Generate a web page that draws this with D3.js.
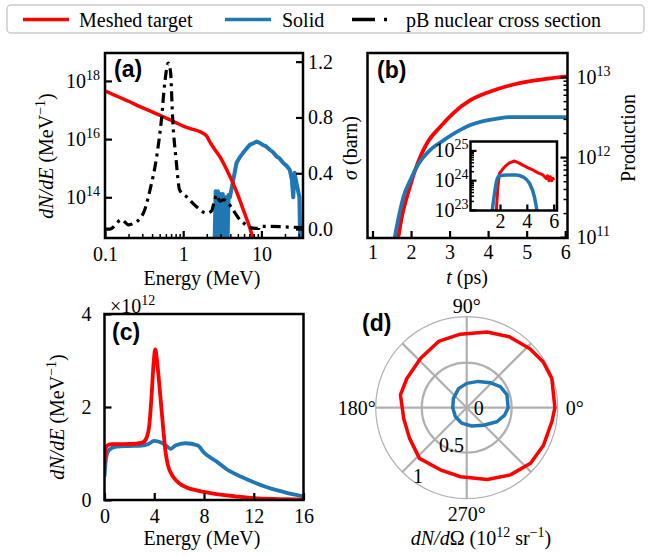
<!DOCTYPE html>
<html>
<head>
<meta charset="utf-8">
<script src="https://cdn.jsdelivr.net/npm/d3@7"></script>
<style>
  body { margin: 0; background: #fff; }
</style>
</head>
<body>
<svg id="fig" width="650" height="556"></svg>
<script>
// ---------- data ----------
// (a) spectra, energy in MeV, dN/dE in MeV^-1
var aRedE   = [0.1, 0.15, 0.2, 0.28, 0.4, 0.68, 1.0, 1.3, 1.63, 2.0, 2.2, 2.6, 2.94, 3.6, 4.3, 4.8, 5.3, 5.8, 6.3, 6.8, 7.2, 7.5, 7.8, 8.1];
var aRedN   = [4.6e17, 2.8e17, 2e17, 1.3e17, 8.7e16, 4.6e16, 2.8e16, 2.2e16, 1.8e16, 1.26e16, 7.9e15, 4e15, 2.5e15, 8.9e14, 3.2e14, 1.58e14, 7.9e13, 4e13, 2.2e13, 1.26e13, 7.9e12, 5.6e12, 4e12, 2e12];
var aBlueE  = [2.5, 2.6, 2.68, 2.78, 2.88, 2.98, 3.1, 3.2, 3.35, 3.5, 3.65, 3.8, 3.95, 4.3, 4.8, 5.3, 5.8, 6.4, 7.1, 7.9, 8.7, 9.5, 10.5, 11.5, 12.8, 14, 15.6, 17, 19, 21, 23, 24.5, 25.5, 26.5, 27.5, 29, 30.6, 31.5];
var aBlueN  = [1e12, 1.6e14, 1e12, 1.6e14, 1e12, 1.3e14, 1e12, 1.3e14, 1e12, 1e14, 1e12, 1.2e14, 1e14, 3.2e14, 1.5e15, 2.4e15, 3.3e15, 4.6e15, 6.3e15, 7.2e15, 8.3e15, 7.4e15, 6.3e15, 5.6e15, 4.3e15, 3.6e15, 2.5e15, 2.2e15, 1.5e15, 1.2e15, 8.9e14, 4e14, 1e14, 7e14, 4e14, 2e14, 1e14, 1e12];
var xsE     = [0.1, 0.116, 0.163, 0.2, 0.23, 0.31, 0.376, 0.458, 0.53, 0.58, 0.645, 0.69, 0.73, 0.81, 0.9, 1.11, 1.48, 1.98, 2.3, 2.5, 2.67, 2.95, 3.3, 3.6, 4.3, 5.3, 6.4, 7.8, 9.3, 9.4, 33];
var xsSigma = [0.0, 0.0, 0.067, 0.03, 0.04, 0.115, 0.28, 0.52, 0.8, 1.045, 1.19, 1.12, 0.81, 0.5, 0.28, 0.23, 0.16, 0.115, 0.13, 0.2, 0.245, 0.2, 0.21, 0.2, 0.14, 0.067, 0.03, 0.007, 0.005, 0.02, 0.01];

// (b) production vs time (ps)
var bRedT  = [1.65, 1.68, 1.76, 1.89, 2.02, 2.2, 2.41, 2.76, 3.1, 3.54, 4.06, 4.58, 5.1, 5.5, 6.06];
var bRedP  = [8.9e10, 1.07e11, 1.78e11, 3.16e11, 5.13e11, 9.1e11, 1.48e12, 2.4e12, 3.55e12, 5.13e12, 6.6e12, 7.9e12, 8.9e12, 9.5e12, 1.02e13];
var bBlueT = [1.55, 1.59, 1.68, 1.8, 1.98, 2.2, 2.5, 2.84, 3.28, 3.54, 3.8, 4.2, 4.58, 5.1, 5.5, 6.06];
var bBlueP = [8e10, 1.07e11, 1.78e11, 3.16e11, 5.13e11, 8.3e11, 1.23e12, 1.62e12, 2.19e12, 2.51e12, 2.75e12, 3.0e12, 3.16e12, 3.16e12, 3.16e12, 3.16e12];
// (b) inset: cross section
var iRedT  = [1.7, 1.84, 1.96, 2.34, 2.7, 3.08, 3.4, 3.7, 4.1, 4.45, 4.8, 5.2, 5.45, 5.55, 5.65, 5.75, 5.85, 5.95, 6.02];
var iRedS  = [6e22, 5.9e23, 1.7e24, 2.8e24, 3.8e24, 4.4e24, 3.8e24, 3.2e24, 2.6e24, 2.2e24, 1.8e24, 1.5e24, 1.15e24, 1.4e24, 0.95e24, 1.3e24, 0.95e24, 1.15e24, 1.0e24];
var iBlueT = [1.42, 1.59, 1.76, 1.96, 2.5, 3.2, 3.7, 4.2, 4.57, 4.75, 4.85];
var iBlueS = [9.5e22, 3.5e23, 1e24, 1.4e24, 1.48e24, 1.48e24, 1.29e24, 7.8e23, 2.7e23, 9.5e22, 4e22];

// (c) spectra on linear scale, units of 1e12 MeV^-1
var cRedE  = [0, 0.08, 0.25, 0.6, 1.5, 2.5, 3.1, 3.4, 3.6, 3.8, 3.95, 4.08, 4.2, 4.35, 4.5, 4.7, 4.9, 5.1, 5.3, 5.6, 6.0, 6.6, 7.5, 8.5, 9.5, 10.5, 12, 14, 16];
var cRedN  = [0.75, 1.1, 1.18, 1.2, 1.2, 1.21, 1.24, 1.35, 1.6, 2.3, 2.95, 3.24, 3.05, 2.65, 2.2, 1.6, 1.05, 0.75, 0.6, 0.47, 0.36, 0.27, 0.2, 0.15, 0.11, 0.08, 0.04, 0.02, 0.01];
var cBlueE = [0, 0.1, 0.3, 0.6, 1, 2, 3, 3.5, 4, 4.5, 5.0, 5.3, 5.7, 6.5, 7.5, 8, 9, 10, 11, 12, 13, 14, 15, 16];
var cBlueN = [0.5, 0.85, 1.05, 1.12, 1.15, 1.16, 1.17, 1.2, 1.27, 1.24, 1.16, 1.1, 1.17, 1.22, 1.17, 1.02, 0.83, 0.63, 0.5, 0.38, 0.28, 0.2, 0.13, 0.08];

// (d) angular distribution, angle in degrees, dN/dOmega in 1e12 sr^-1
var dRedAng  = [0, 19, 31, 43, 59, 75, 95, 113, 133, 154, 169, 190, 208, 227, 247, 265, 286, 303, 319, 334, 351];
var dRedR    = [0.98, 1.0, 0.99, 0.96, 0.92, 0.87, 0.82, 0.8, 0.75, 0.74, 0.75, 0.71, 0.72, 0.77, 0.75, 0.77, 0.83, 0.89, 0.94, 0.95, 0.96];
var dBlueAng = [0, 18, 32, 47, 66, 90, 113, 145, 180, 218, 252, 285, 314, 335, 349];
var dBlueR   = [0.46, 0.47, 0.44, 0.38, 0.32, 0.27, 0.23, 0.18, 0.155, 0.16, 0.18, 0.21, 0.27, 0.37, 0.43];

var legendLabels = ["Meshed target", "Solid", "pB nuclear cross section"];

// ---------- drawing ----------
var RED = "#ff0000", BLUE = "#1f77b4";
var SERIF = '"Liberation Serif", "Times New Roman", serif';
var SANS = '"Liberation Sans", Arial, sans-serif';
var FS = 20;

var svg = d3.select("#fig");

var A = {x0: 105, x1: 303, y0: 53, y1: 238};
var B = {x0: 367.5, x1: 567.5, y0: 53, y1: 238};
var I = {x0: 470.5, x1: 557, y0: 141.5, y1: 210.5};
var C = {x0: 104.5, x1: 303.5, y0: 314, y1: 500};
var P = {cx: 466.7, cy: 407.7, R: 90};

var clip = function(id, b){
	svg.append("clipPath").attr("id", id).append("rect")
		.attr("x", b.x0).attr("y", b.y0)
		.attr("width", b.x1 - b.x0).attr("height", b.y1 - b.y0);
};

var frame = function(b){
	svg.append("rect")
		.attr("x", b.x0).attr("y", b.y0)
		.attr("width", b.x1 - b.x0).attr("height", b.y1 - b.y0)
		.attr("fill", "none").attr("stroke", "#000").attr("stroke-width", 2.5);
};

var axis = function(gen, tx, ty, vals, len, pad, fmt){
	var g = svg.append("g").attr("transform", "translate(" + tx + "," + ty + ")")
		.call(gen.tickValues(vals).tickSizeInner(-len).tickSizeOuter(0)
			.tickPadding(pad).tickFormat(fmt || function(){ return ""; }));
	g.select(".domain").remove();
	g.attr("font-family", SERIF).attr("font-size", FS);
	g.selectAll(".tick line").attr("stroke", "#000").attr("stroke-width", len > 5 ? 2.2 : 1.5);
	g.selectAll(".tick text").attr("fill", "#000");
	return g;
};

// turn tick labels into 10^n
var powLabels = function(g){
	g.selectAll(".tick text").each(function(d){
		var t = d3.select(this).text(null);
		t.append("tspan").text("10");
		t.append("tspan").attr("dy", -8).attr("font-size", 14).text(Math.round(Math.log10(d)));
	});
};

var minors = function(lo, hi){
	var out = [];
	for(var k = Math.floor(Math.log10(lo)); k <= Math.ceil(Math.log10(hi)); k++){
		for(var m = 2; m < 10; m++){
			var v = m * Math.pow(10, k);
			if(v > lo && v < hi){ out.push(v); }
		}
	}
	return out;
};

// text with italic / superscript pieces
var rich = function(x, y, parts, anchor, rot){
	var t = svg.append("text").attr("x", x).attr("y", y)
		.attr("font-family", SERIF).attr("font-size", FS)
		.attr("text-anchor", anchor || "middle");
	if(rot){ t.attr("transform", "rotate(" + rot + "," + x + "," + y + ")"); }
	var shift = 0;
	parts.forEach(function(p){
		var ts = t.append("tspan").text(p.t);
		var target = p.sup ? -8 : 0;
		if(target !== shift){ ts.attr("dy", target - shift); shift = target; }
		if(p.sup){ ts.attr("font-size", 14); }
		if(p.it){ ts.attr("font-style", "italic"); }
	});
	return t;
};

var panelTag = function(x, y, s){
	svg.append("text").attr("x", x).attr("y", y)
		.attr("font-family", SANS).attr("font-weight", "bold").attr("font-size", 23)
		.text(s);
};

var drawLine = function(clipId, xs, ys, x, y, color, width, curve, dash){
	var gen = d3.line().x(function(d){ return x(d[0]); }).y(function(d){ return y(d[1]); })
		.curve(curve || d3.curveLinear);
	var p = svg.append("path").attr("clip-path", "url(#" + clipId + ")")
		.attr("d", gen(d3.zip(xs, ys)))
		.attr("fill", "none").attr("stroke", color).attr("stroke-width", width)
		.attr("stroke-linejoin", "round");
	if(dash){ p.attr("stroke-dasharray", dash); }
	return p;
};

// ---------- legend ----------
svg.append("rect").attr("x", 7).attr("y", 5).attr("width", 637).attr("height", 28).attr("rx", 4)
	.attr("fill", "#fff").attr("stroke", "#cccccc").attr("stroke-width", 1.5);
var legItems = [
	{x: 23, tx: 79, color: RED, dash: null},
	{x: 225, tx: 282, color: BLUE, dash: null},
	{x: 352, tx: 406, color: "#000", dash: "23,9,3,11"}
];
legItems.forEach(function(it, i){
	var l = svg.append("line").attr("x1", it.x).attr("x2", it.x + 46).attr("y1", 19.5).attr("y2", 19.5)
		.attr("stroke", it.color).attr("stroke-width", 3.5);
	if(it.dash){ l.attr("stroke-dasharray", it.dash); }
	svg.append("text").attr("x", it.tx).attr("y", 26.5)
		.attr("font-family", SERIF).attr("font-size", FS).text(legendLabels[i]);
});

// ---------- (a) ----------
var xA = d3.scaleLog().domain([0.1, 34]).range([A.x0, A.x1]);
var yA = d3.scaleLog().domain([Math.pow(10, 12.6), Math.pow(10, 18.96)]).range([A.y1, A.y0]);
var yA2 = d3.scaleLinear().domain([-0.064, 1.262]).range([A.y1, A.y0]);
clip("clipA", A);

drawLine("clipA", aBlueE, aBlueN, xA, yA, BLUE, 4, d3.curveLinear);
drawLine("clipA", aRedE, aRedN, xA, yA, RED, 3.5, d3.curveMonotoneX);
drawLine("clipA", xsE, xsSigma, xA, yA2, "#000", 3.2, d3.curveMonotoneX, "10,5,3,5");

axis(d3.axisBottom(xA), 0, A.y1, [0.1, 1, 10], 7, 9, function(d){ return d3.format("~g")(d); });
axis(d3.axisBottom(xA), 0, A.y1, minors(0.1, 34), 4, 9);
powLabels(axis(d3.axisLeft(yA), A.x0, 0, [1e14, 1e16, 1e18], 7, 5, function(d){ return d; }));
axis(d3.axisRight(yA2), A.x1, 0, [0, 0.4, 0.8, 1.2], 7, 5, d3.format(".1f"));
frame(A);
panelTag(114, 77, "(a)");
rich(202, 285, [{t: "Energy (MeV)"}]);
rich(53, 156, [{t: "dN/dE", it: true}, {t: " (MeV"}, {t: "\u22121", sup: true}, {t: ")"}], "middle", -90);

// ---------- (b) ----------
var xB = d3.scaleLinear().domain([0.87, 6.06]).range([B.x0, B.x1]);
var yB = d3.scaleLog().domain([Math.pow(10, 10.99), Math.pow(10, 13.3)]).range([B.y1, B.y0]);
clip("clipB", B);
drawLine("clipB", bRedT, bRedP, xB, yB, RED, 3.8, d3.curveMonotoneX);
drawLine("clipB", bBlueT, bBlueP, xB, yB, BLUE, 3.8, d3.curveMonotoneX);

axis(d3.axisBottom(xB), 0, B.y1, [1, 2, 3, 4, 5, 6], 7, 7, d3.format("d"));
powLabels(axis(d3.axisRight(yB), B.x1, 0, [1e11, 1e12, 1e13], 7, 9, function(d){ return d; }));
axis(d3.axisRight(yB), B.x1, 0, minors(Math.pow(10, 10.99), Math.pow(10, 13.3)), 4, 9);
frame(B);
panelTag(377, 78, "(b)");
rich(467, 284, [{t: "t", it: true}, {t: " (ps)"}]);
rich(357, 148, [{t: "\u03c3", it: true}, {t: " (barn)"}], "middle", -90);
rich(635, 138, [{t: "Production"}], "middle", -90);

// inset
var xI = d3.scaleLinear().domain([-0.2, 6.25]).range([I.x0, I.x1]);
var yI = d3.scaleLog().domain([Math.pow(10, 22.98), Math.pow(10, 25.3)]).range([I.y1, I.y0]);
svg.append("rect").attr("x", I.x0).attr("y", I.y0).attr("width", I.x1 - I.x0).attr("height", I.y1 - I.y0).attr("fill", "#fff");
clip("clipI", I);
drawLine("clipI", iRedT, iRedS, xI, yI, RED, 3, d3.curveLinear);
drawLine("clipI", iBlueT, iBlueS, xI, yI, BLUE, 3.5, d3.curveMonotoneX);
axis(d3.axisBottom(xI), 0, I.y1, [2, 4, 6], 6, 3, d3.format("d"));
powLabels(axis(d3.axisLeft(yI), I.x0, 0, [1e23, 1e24, 1e25], 6, 2, function(d){ return d; }));
axis(d3.axisLeft(yI), I.x0, 0, minors(Math.pow(10, 22.98), Math.pow(10, 25.3)), 3.5, 2);
frame(I);

// ---------- (c) ----------
var xC = d3.scaleLinear().domain([0, 16]).range([C.x0, C.x1]);
var yC = d3.scaleLinear().domain([0, 4]).range([C.y1, C.y0]);
clip("clipC", C);
drawLine("clipC", cBlueE, cBlueN, xC, yC, BLUE, 3.8, d3.curveMonotoneX);
drawLine("clipC", cRedE, cRedN, xC, yC, RED, 3.8, d3.curveMonotoneX);
axis(d3.axisBottom(xC), 0, C.y1, [0, 4, 8, 12, 16], 7, 9, d3.format("d"));
axis(d3.axisLeft(yC), C.x0, 0, [0, 2, 4], 7, 13, d3.format("d"));
frame(C);
panelTag(112, 340, "(c)");
rich(110, 313, [{t: "\u00d710"}, {t: "12", sup: true}], "start");
rich(202, 545, [{t: "Energy (MeV)"}]);
rich(64, 417, [{t: "dN/dE", it: true}, {t: " (MeV"}, {t: "\u22121", sup: true}, {t: ")"}], "middle", -90);

// ---------- (d) polar ----------
var rP = d3.scaleLinear().domain([0, 1]).range([0, P.R]);
var gP = svg.append("g").attr("transform", "translate(" + P.cx + "," + P.cy + ")");
gP.append("circle").attr("r", P.R + 1).attr("fill", "none").attr("stroke", "#b0b0b0").attr("stroke-width", 1.2);
gP.append("circle").attr("r", rP(0.5)).attr("fill", "none").attr("stroke", "#b0b0b0").attr("stroke-width", 2.2);
d3.range(0, 360, 45).forEach(function(a){
	var th = a * Math.PI / 180;
	gP.append("line").attr("x1", 0).attr("y1", 0)
		.attr("x2", (P.R + 1) * Math.cos(th)).attr("y2", -(P.R + 1) * Math.sin(th))
		.attr("stroke", "#b0b0b0").attr("stroke-width", 2.2);
});
var radial = d3.lineRadial()
	.angle(function(d){ return Math.PI / 2 - d[0] * Math.PI / 180; })
	.radius(function(d){ return rP(d[1]); })
	.curve(d3.curveLinearClosed);
gP.append("path").attr("d", radial(d3.zip(dRedAng, dRedR)))
	.attr("fill", "none").attr("stroke", RED).attr("stroke-width", 3.5).attr("stroke-linejoin", "round");
gP.append("path").attr("d", radial(d3.zip(dBlueAng, dBlueR)))
	.attr("fill", "none").attr("stroke", BLUE).attr("stroke-width", 3.5).attr("stroke-linejoin", "round");

var angLabels = [{a: 0, s: "0\u00b0", d: 108}, {a: 90, s: "90\u00b0", d: 102}, {a: 180, s: "180\u00b0", d: 110}, {a: 270, s: "270\u00b0", d: 106}];
angLabels.forEach(function(l){
	var th = l.a * Math.PI / 180;
	gP.append("text").attr("x", l.d * Math.cos(th)).attr("y", -l.d * Math.sin(th))
		.attr("dy", "0.35em").attr("text-anchor", "middle")
		.attr("font-family", SERIF).attr("font-size", FS).text(l.s);
});
[{v: 0, s: "0", dx: 7}, {v: 0.5, s: "0.5", dx: -2}, {v: 1, s: "1", dx: -2}].forEach(function(l){
	var th = 235 * Math.PI / 180;
	gP.append("text").attr("x", rP(l.v) * Math.cos(th) + l.dx).attr("y", -rP(l.v) * Math.sin(th) - (l.v === 1 ? 5 : 0))
		.attr("dy", "0.35em").attr("text-anchor", "start")
		.attr("font-family", SERIF).attr("font-size", FS).text(l.s);
});
panelTag(362, 331, "(d)");
rich(481, 545, [{t: "dN/d", it: true}, {t: "\u03a9 (10"}, {t: "12", sup: true}, {t: " sr"}, {t: "\u22121", sup: true}, {t: ")"}]);
</script>
</body>
</html>
